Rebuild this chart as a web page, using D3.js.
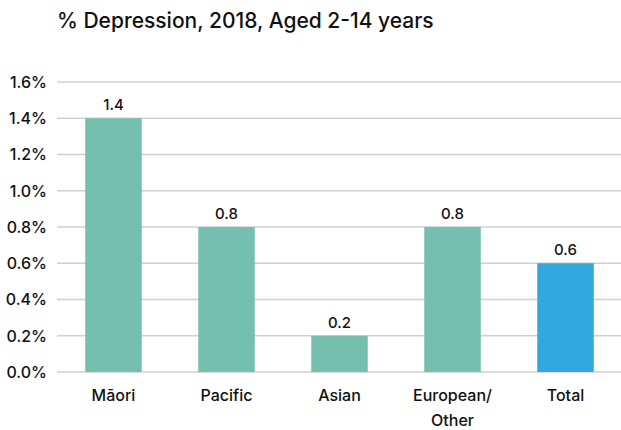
<!DOCTYPE html>
<html><head><meta charset="utf-8">
<script src="https://cdn.jsdelivr.net/npm/d3@7"></script>
<style>body{margin:0;background:#fff;} text{font-family:Inter,"Open Sans",sans-serif;fill:#111;}</style>
</head><body>
<svg id="c" width="621" height="430"></svg>
<script>
const categories = ["Māori","Pacific","Asian","European/\nOther","Total"];
const values = [1.4, 0.8, 0.2, 0.8, 0.6];
const barColors = ["#74bfae","#74bfae","#74bfae","#74bfae","#33a7df"];
const yTicks = [0,0.2,0.4,0.6,0.8,1.0,1.2,1.4,1.6];
const title = "% Depression, 2018, Aged 2-14 years";

const svg = d3.select("#c");
const x = d3.scaleBand().domain(categories).range([57,622]).paddingInner(0.5).paddingOuter(0.25);
const y = d3.scaleLinear().domain([0,1.6]).range([372,82]);

svg.append("text").attr("x",57).attr("y",28).attr("font-size",21).attr("font-weight",500).text(title);

const g = svg.append("g");
g.selectAll("line.grid").data(yTicks).join("line")
 .attr("x1",57).attr("x2",621).attr("y1",d=>y(d)).attr("y2",d=>y(d))
 .attr("stroke","#d0d0d0").attr("stroke-width",1.5);
g.selectAll("text.yt").data(yTicks).join("text")
 .attr("x",47).attr("y",d=>y(d)).attr("dy","0.36em").attr("text-anchor","end")
 .attr("font-size",16).attr("font-weight",500).text(d=>d.toFixed(1)+"%");

g.selectAll("rect").data(values).join("rect")
 .attr("x",(d,i)=>x(categories[i])).attr("width",x.bandwidth())
 .attr("y",d=>y(d)).attr("height",d=>y(0)-y(d)).attr("fill",(d,i)=>barColors[i]);

g.selectAll("text.v").data(values).join("text")
 .attr("x",(d,i)=>x(categories[i])+x.bandwidth()/2).attr("y",d=>y(d)-8)
 .attr("text-anchor","middle").attr("font-size",15).attr("font-weight",500).text(d=>d.toFixed(1));

categories.forEach(c=>{
  const t = g.append("text").attr("x",x(c)+x.bandwidth()/2).attr("y",401).attr("text-anchor","middle")
   .attr("font-size",16).attr("font-weight",500);
  c.split("\n").forEach((line,i)=>t.append("tspan").attr("x",x(c)+x.bandwidth()/2).attr("dy",i?25:0).text(line));
});
</script>
</body></html>
